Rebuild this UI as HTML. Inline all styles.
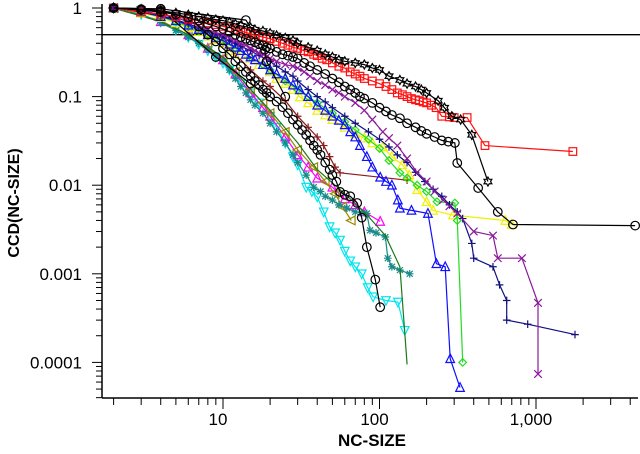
<!DOCTYPE html>
<html><head><meta charset="utf-8"><style>
html,body{margin:0;padding:0;background:#fff;}
svg{display:block;font-family:"Liberation Sans",Arial,sans-serif;}
</style></head><body>
<svg id="chart" width="640" height="454" viewBox="0 0 640 454" xmlns="http://www.w3.org/2000/svg">
<g id="axes"></g>
<g id="series"></g>
<text x="0" y="0" transform="translate(19,203) rotate(-90)" text-anchor="middle" font-weight="bold" font-size="16">CCD(NC-SIZE)</text>
<text x="372" y="446" text-anchor="middle" font-weight="bold" font-size="17">NC-SIZE</text>
</svg>
<script>
const yTickValues=[1,0.1,0.01,0.001,0.0001];
const yTickLabels=["1","0.1","0.01","0.001","0.0001"];
const xTickValues=[10,100,1000];
const xTickLabels=["10","100","1,000"];
const refLineY=0.5;
const refLineXEnd=5000;

const redX=[2,3,4,5,6,7,8,9,10,11,12,13,14,15,16,17,18,19,20,22,24,26,28,30,33,35,38,40,43,46,50,55,60,65,70,75,80,90,100,110,120,130,140,150,160,170,180,190,200,215,230,250,280,300,363,472,1720];
const redY=[1,0.9,0.85,0.8,0.75,0.72,0.68,0.65,0.62,0.6,0.57,0.55,0.53,0.51,0.5,0.48,0.47,0.46,0.45,0.42,0.4,0.38,0.36,0.35,0.33,0.32,0.3,0.29,0.27,0.26,0.24,0.22,0.21,0.19,0.18,0.17,0.16,0.15,0.14,0.13,0.12,0.11,0.105,0.1,0.095,0.092,0.09,0.087,0.085,0.08,0.075,0.06,0.059,0.058,0.058,0.028,0.024];
const starX=[2,3,4,5,6,7,8,9,10,11,12,13,15,16,18,20,22,25,28,30,35,40,45,50,55,60,70,80,90,100,115,135,150,170,185,200,237,260,290,330,389,493];
const starY=[1,0.97,0.93,0.88,0.84,0.8,0.77,0.74,0.72,0.69,0.66,0.63,0.6,0.57,0.55,0.52,0.49,0.46,0.43,0.4,0.36,0.33,0.3,0.28,0.26,0.25,0.24,0.23,0.21,0.2,0.17,0.154,0.14,0.13,0.12,0.11,0.09,0.075,0.06,0.055,0.037,0.011];
const circAX=[2,3,4,5,6,7,8,9,10,11,12,13,14,15,16,17,18,19,20,22,24,26,28,30,33,36,40,45,50,55,60,65,70,75,80,90,100,110,120,135,150,170,185,200,225,250,275,303,314,427,570,713,4300];
const circAY=[1,0.95,0.9,0.85,0.78,0.72,0.66,0.62,0.58,0.54,0.5,0.47,0.45,0.43,0.41,0.39,0.38,0.36,0.35,0.32,0.3,0.29,0.28,0.27,0.24,0.22,0.2,0.18,0.16,0.145,0.13,0.12,0.11,0.1,0.095,0.085,0.075,0.068,0.062,0.057,0.05,0.045,0.041,0.038,0.035,0.032,0.031,0.03,0.0178,0.0093,0.005,0.0036,0.0035];
const purpleX=[2,3,4,5,6,7,8,9,10,11,12,13,14,15,16,17,18,19,20,22,25,28,30,33,36,40,45,50,55,60,70,80,90,105,115,130,150,174,200,225,255,280,314,400,531,570,813,1030,1030];
const purpleY=[1,0.93,0.85,0.78,0.7,0.63,0.57,0.53,0.5,0.46,0.43,0.4,0.38,0.35,0.33,0.31,0.3,0.28,0.27,0.25,0.23,0.22,0.21,0.19,0.17,0.15,0.135,0.12,0.11,0.1,0.085,0.07,0.055,0.04,0.034,0.028,0.02,0.014,0.011,0.0085,0.0068,0.0058,0.0048,0.003,0.0027,0.0015,0.0015,0.00047,0.000074];
const navyX=[2,3,4,5,6,7,8,9,10,11,12,13,15,17,20,22,25,28,30,35,40,45,50,60,70,85,100,115,130,150,170,195,220,250,280,314,340,389,400,531,585,650,650,885,1775];
const navyY=[1,0.9,0.82,0.74,0.66,0.6,0.55,0.51,0.47,0.43,0.4,0.37,0.33,0.29,0.25,0.22,0.19,0.17,0.15,0.12,0.1,0.087,0.075,0.06,0.05,0.04,0.033,0.027,0.022,0.018,0.014,0.011,0.009,0.0075,0.006,0.005,0.0042,0.0022,0.0015,0.0012,0.00075,0.0005,0.0003,0.00027,0.000206];
const blueX=[2,3,4,5,6,7,8,9,10,11,12,13,14,15,16,18,20,22,25,28,31,35,40,45,50,55,60,65,70,75,83,90,101,110,120,131,135,160,204,231,263,283,327];
const blueY=[1,0.9,0.8,0.72,0.64,0.57,0.5,0.46,0.43,0.39,0.36,0.33,0.3,0.28,0.26,0.23,0.2,0.18,0.16,0.135,0.119,0.1,0.08,0.07,0.06,0.054,0.048,0.04,0.035,0.028,0.021,0.016,0.0123,0.011,0.01,0.0068,0.0055,0.0052,0.0048,0.0013,0.0012,0.00011,0.000052];
const greenX=[2,3,4,5,6,7,8,9,10,12,15,18,20,25,30,35,40,50,60,70,85,100,115,135,150,174,200,233,303,314,340];
const greenY=[1,0.9,0.8,0.7,0.62,0.55,0.5,0.46,0.42,0.35,0.28,0.23,0.2,0.15,0.12,0.1,0.085,0.065,0.052,0.042,0.033,0.026,0.019,0.0138,0.012,0.01,0.0085,0.0065,0.0063,0.004,0.0001];
const yellowX=[2,3,4,5,6,7,8,9,10,11,12,13,15,17,20,22,25,28,31,35,40,45,50,60,70,80,90,105,120,140,155,174,200,220,295,637,700];
const yellowY=[1,0.88,0.78,0.68,0.6,0.54,0.48,0.44,0.4,0.36,0.33,0.3,0.27,0.23,0.19,0.16,0.14,0.12,0.099,0.085,0.07,0.062,0.055,0.045,0.038,0.034,0.03,0.027,0.021,0.017,0.013,0.0089,0.0065,0.0052,0.0046,0.004,0.0036];
const circBX=[2,3,4,5,6,7,8,9,10,11,12,13,14,15,16,17,18,19,20,22,24,26,28,30,32,34,36,38,40,42,45,48,50,53,56,60,65,72,77,83,94,101];
const circBY=[1,0.97,0.93,0.85,0.75,0.62,0.5,0.42,0.35,0.3,0.25,0.22,0.19,0.17,0.15,0.135,0.12,0.11,0.1,0.088,0.076,0.065,0.055,0.048,0.042,0.037,0.032,0.028,0.025,0.022,0.018,0.015,0.013,0.011,0.0084,0.0078,0.0075,0.0063,0.0043,0.002,0.00086,0.00042];
const circCX=[2,4,9,15,20];
const circCY=[1,0.97,0.28,0.14,0.1];
const circDX=[2,4,14,18.5,19,25];
const circDY=[1,0.98,0.73,0.34,0.25,0.1];
const tealX=[2,3,4,5,6,7,8,9,10,11,12,13,14,15,16,18,20,22,25,28,30,34,38,42,45,50,55,62,70,77,83,87,95,109,113,120,135,156];
const tealY=[1,0.85,0.68,0.56,0.47,0.4,0.34,0.29,0.25,0.2,0.16,0.13,0.11,0.092,0.08,0.065,0.05,0.04,0.03,0.022,0.018,0.013,0.0095,0.0085,0.0075,0.0068,0.006,0.0055,0.005,0.0049,0.0048,0.0031,0.0029,0.0026,0.0015,0.0012,0.0011,0.001];
const cyanX=[2,3,4,5,6,7,8,9,10,11,12,13,15,17,20,22,25,28,30,34,37,40,44,48,52,56,60,65,70,77,84,91,110,131,145];
const cyanY=[1,0.85,0.7,0.57,0.47,0.39,0.33,0.28,0.24,0.2,0.17,0.14,0.11,0.085,0.06,0.045,0.03,0.021,0.017,0.0095,0.0085,0.0074,0.005,0.0034,0.0029,0.0024,0.0018,0.0014,0.0012,0.001,0.0007,0.00055,0.0005,0.00048,0.00023];
const magentaX=[2,4,6,8,10,12,15,18,20,25,30,35,40,50,60,70,80,101];
const magentaY=[1,0.7,0.5,0.35,0.26,0.18,0.11,0.075,0.06,0.035,0.022,0.016,0.012,0.0095,0.007,0.006,0.005,0.0039];
const oliveX=[2,4,6,8,10,12,15,18,20,25,30,38,45,52,58,66];
const oliveY=[1,0.72,0.5,0.36,0.27,0.19,0.12,0.085,0.065,0.04,0.025,0.016,0.011,0.008,0.0057,0.004];
const dgreenX=[2,4,6,10,15,20,30,40,60,80,109,135,150];
const dgreenY=[1,0.7,0.5,0.28,0.12,0.07,0.03,0.015,0.008,0.005,0.0027,0.0012,0.000095];
const brownX=[2,4,6,8,10,12,15,18,20,25,30,35,40,44,48,52,56,150];
const brownY=[1,0.8,0.6,0.48,0.4,0.3,0.2,0.15,0.13,0.09,0.06,0.045,0.035,0.028,0.021,0.016,0.0138,0.0114];

const PLOT={left:102,bottom:398,top:4,right:638};
function sx(v){return 223+(Math.log10(v)-1)*156.5;}
function sy(v){return 8-Math.log10(v)*88.6;}
const NS="http://www.w3.org/2000/svg";
function mk(tag,attrs,parent){const e=document.createElementNS(NS,tag);for(const k in attrs)e.setAttribute(k,attrs[k]);parent.appendChild(e);return e;}

const axes=document.getElementById('axes');
const yAxis=mk('line',{x1:PLOT.left,y1:PLOT.top,x2:PLOT.left,y2:PLOT.bottom,stroke:'#000','stroke-width':1.5},axes);


const xAxis=mk('line',{x1:PLOT.left,y1:PLOT.bottom,x2:PLOT.right,y2:PLOT.bottom,stroke:'#000','stroke-width':1.5},axes);


for(let e=-5;e<=0;e++){
  for(let m=1;m<10;m++){
    const v=m*Math.pow(10,e);const y=sy(v);
    if(y>PLOT.bottom||y<PLOT.top)continue;
    const t=mk('line',{x1:PLOT.left-(m===1?10:6),y1:y,x2:PLOT.left,y2:y,stroke:'#000','stroke-width':1},axes);
    
    
  }
}
yTickValues.forEach((v,i)=>{
  const t=mk('text',{x:PLOT.left-20,y:sy(v)+6,'text-anchor':'end','font-size':17},axes);
  t.textContent=yTickLabels[i];
  
  
});
for(let e=0;e<=3;e++){
  for(let m=1;m<10;m++){
    const v=m*Math.pow(10,e);const x=sx(v);
    if(x<PLOT.left+5||x>PLOT.right)continue;
    const t=mk('line',{x1:x,y1:PLOT.bottom,x2:x,y2:PLOT.bottom+(m===1?11:7),stroke:'#000','stroke-width':1},axes);
    
    
  }
}
xTickValues.forEach((v,i)=>{
  const t=mk('text',{x:sx(v)-5,y:425,'text-anchor':'middle','font-size':17},axes);
  t.textContent=xTickLabels[i];
  
  
});
const ref=mk('line',{x1:PLOT.left,y1:sy(refLineY),x2:sx(refLineXEnd),y2:sy(refLineY),stroke:'#000','stroke-width':1.3},axes);



function marker(g,type,x,y,c){
  const r=3.8;let e;
  const base={fill:'none',stroke:c,'stroke-width':1.2};
  if(type==='square')e=mk('rect',Object.assign({x:x-r,y:y-r,width:2*r,height:2*r},base),g);
  else if(type==='circle')e=mk('circle',Object.assign({cx:x,cy:y,r:4.3},base),g);
  else if(type==='tri')e=mk('path',Object.assign({d:`M${x},${y-r-1}L${x+r+0.5},${y+r}L${x-r-0.5},${y+r}Z`},base),g);
  else if(type==='trid')e=mk('path',Object.assign({d:`M${x},${y+r+1}L${x+r+0.5},${y-r}L${x-r-0.5},${y-r}Z`},base),g);
  else if(type==='tril')e=mk('path',Object.assign({d:`M${x-r-1},${y}L${x+r},${y-r-0.5}L${x+r},${y+r+0.5}Z`},base),g);
  else if(type==='diamond')e=mk('path',Object.assign({d:`M${x},${y-r}L${x+r},${y}L${x},${y+r}L${x-r},${y}Z`},base),g);
  else if(type==='x')e=mk('path',Object.assign({d:`M${x-r},${y-r}L${x+r},${y+r}M${x-r},${y+r}L${x+r},${y-r}`},base),g);
  else if(type==='plus')e=mk('path',Object.assign({d:`M${x-r},${y}L${x+r},${y}M${x},${y-r}L${x},${y+r}`},base),g);
  else if(type==='ast')e=mk('path',Object.assign({d:`M${x-r},${y}L${x+r},${y}M${x},${y-r}L${x},${y+r}M${x-3},${y-3}L${x+3},${y+3}M${x-3},${y+3}L${x+3},${y-3}`},base),g);
  else if(type==='star')e=mk('path',Object.assign({d:`M${x},${y-4.5}L${x+1.3},${y-2.2}L${x+3.9},${y-2.2}L${x+2.6},${y}L${x+3.9},${y+2.2}L${x+1.3},${y+2.2}L${x},${y+4.5}L${x-1.3},${y+2.2}L${x-3.9},${y+2.2}L${x-2.6},${y}L${x-3.9},${y-2.2}L${x-1.3},${y-2.2}Z`},base),g);
  else if(type==='none')return;
  
  
}
function drawSeries(name,xs,ys,color,type){
  const root=document.getElementById('series');
  const g=mk('g',{},root);
  
  
  const pts=xs.map((v,i)=>sx(v).toFixed(1)+','+sy(ys[i]).toFixed(1)).join(' ');
  const pl=mk('polyline',{points:pts,fill:'none',stroke:color,'stroke-width':1.2},g);
  
  
  xs.forEach((v,i)=>marker(g,type,sx(v),sy(ys[i]),color));
}
drawSeries('series-cyan',cyanX,cyanY,'#00e5ee','trid');
drawSeries('series-magenta',magentaX,magentaY,'#ff00ff','tri');
drawSeries('series-olive',oliveX,oliveY,'#9a8a00','tril');
drawSeries('series-teal',tealX,tealY,'#188a8a','ast');
drawSeries('series-darkgreen',dgreenX,dgreenY,'#1a7a1a','none');
drawSeries('series-brown',brownX,brownY,'#8b1a1a','plus');
drawSeries('series-yellow',yellowX,yellowY,'#f0f000','tri');
drawSeries('series-green',greenX,greenY,'#22dd22','diamond');
drawSeries('series-blue',blueX,blueY,'#1010ff','tri');
drawSeries('series-navy',navyX,navyY,'#101080','plus');
drawSeries('series-purple',purpleX,purpleY,'#8a1a9a','x');
drawSeries('series-circle-low',circBX,circBY,'#000','circle');
drawSeries('series-circle-sparse-a',circCX,circCY,'#000','circle');
drawSeries('series-circle-sparse-b',circDX,circDY,'#000','circle');
drawSeries('series-red',redX,redY,'#ff1010','square');
drawSeries('series-circle-mid',circAX,circAY,'#000','circle');
drawSeries('series-star',starX,starY,'#000','star');
</script>
</body></html>
